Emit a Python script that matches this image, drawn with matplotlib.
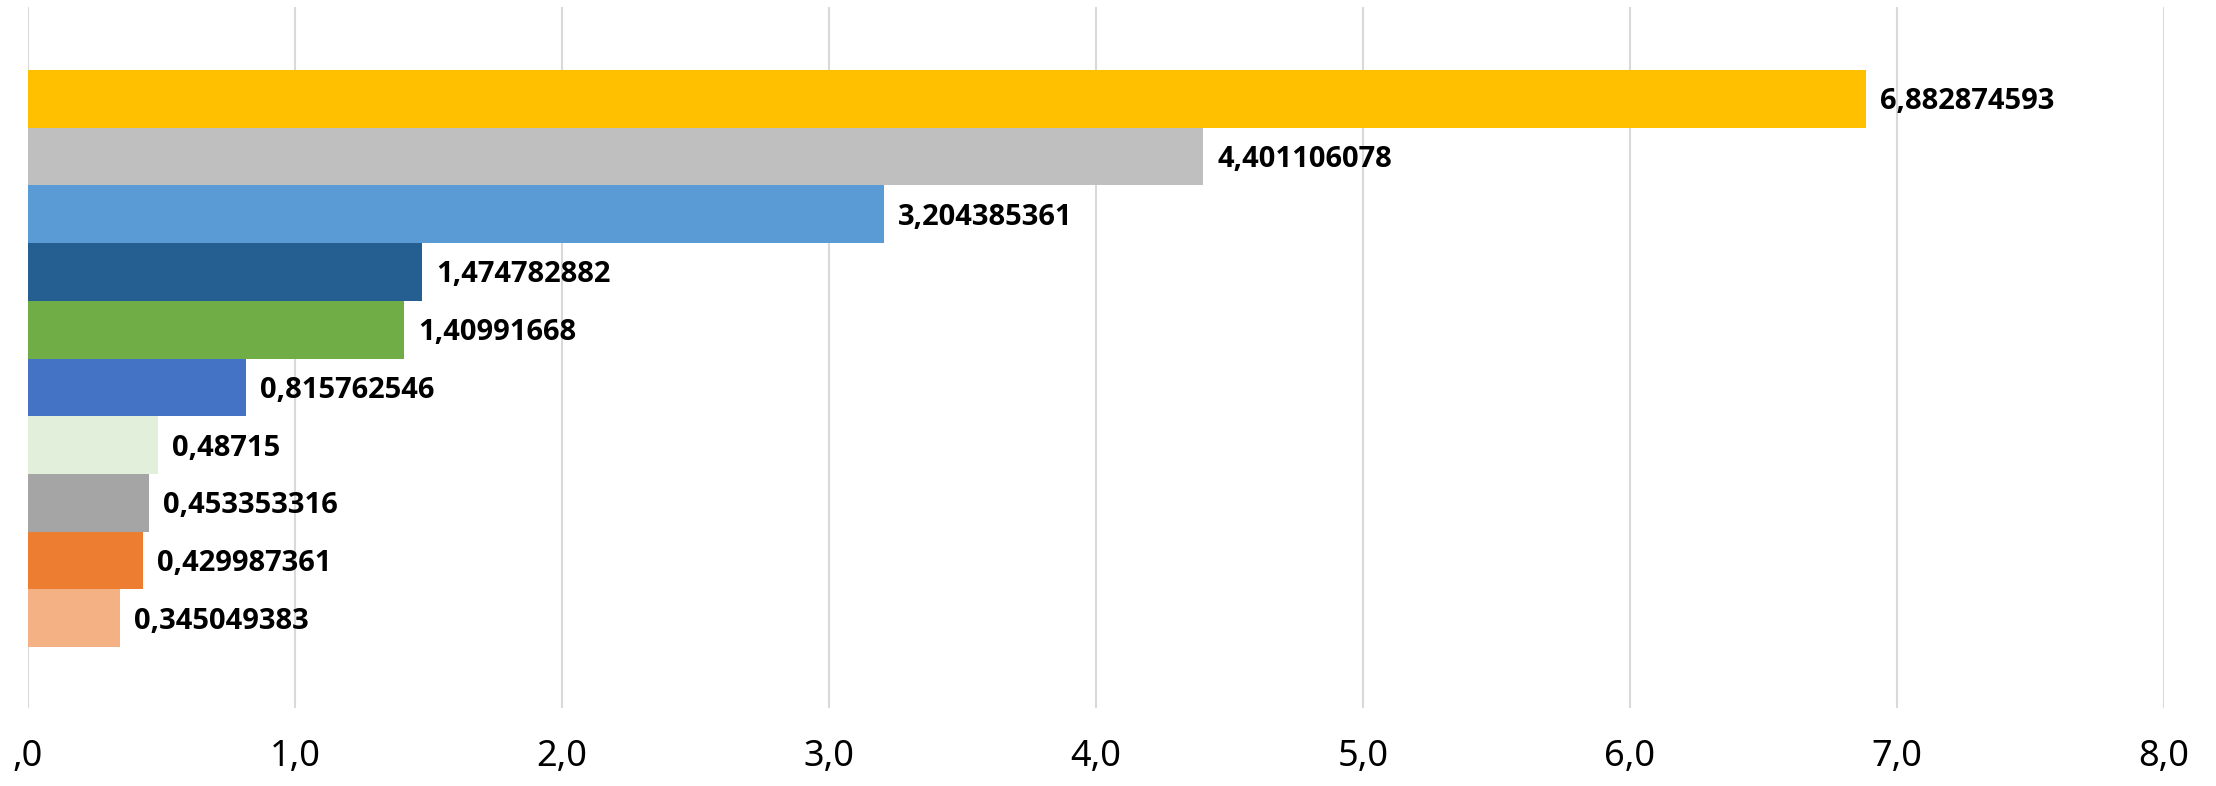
import matplotlib
matplotlib.use("Agg")
import matplotlib.pyplot as plt
import numpy as np

# values, top bar first
values = [6.882874593, 4.401106078, 3.204385361, 1.474782882, 1.40991668,
          0.815762546, 0.48715, 0.453353316, 0.429987361, 0.345049383]
value_labels = ["6,882874593", "4,401106078", "3,204385361", "1,474782882", "1,40991668",
                "0,815762546", "0,48715", "0,453353316", "0,429987361", "0,345049383"]
bar_colors = ['#FFC000', '#BFBFBF', '#5B9BD5', '#255E91', '#70AD47',
              '#4472C4', '#E2EFDA', '#A5A5A5', '#ED7D31', '#F4B183']
x_ticks = [0, 1, 2, 3, 4, 5, 6, 7, 8]
x_tick_labels = [",0", "1,0", "2,0", "3,0", "4,0", "5,0", "6,0", "7,0", "8,0"]

plt.rcParams['font.family'] = ['Noto Sans', 'DejaVu Sans']

fig = plt.figure(figsize=(22.16, 7.86), dpi=100)
ax = fig.add_axes([28 / 2216, 78 / 786, 2136 / 2216, 701 / 786])

n = len(values)
y = np.arange(n)[::-1]  # top bar at highest y

ax.barh(y, values, height=1.0, color=bar_colors, edgecolor='none', zorder=2)

for yi, v, lab in zip(y, values, value_labels):
    ax.annotate(lab, (v, yi), xytext=(14, -3), textcoords='offset pixels',
                ha='left', va='center', fontsize=21, fontweight='bold',
                family=['Open Sans', 'Roboto', 'DejaVu Sans'],
                color='black', zorder=3)

ax.set_xlim(0, 8)
ax.set_ylim(-0.5 - 61 / 57.7, n - 0.5 + 63 / 57.7)

ax.set_xticks(x_ticks)
ax.set_xticklabels(x_tick_labels, fontsize=26)
ax.set_yticks([])
ax.tick_params(axis='x', length=0, pad=22)

ax.grid(axis='x', color='#D9D9D9', lw=1.5, zorder=0)
ax.set_axisbelow(True)
for sp in ax.spines.values():
    sp.set_visible(False)

fig.savefig("out.png", dpi=100, facecolor='white')
